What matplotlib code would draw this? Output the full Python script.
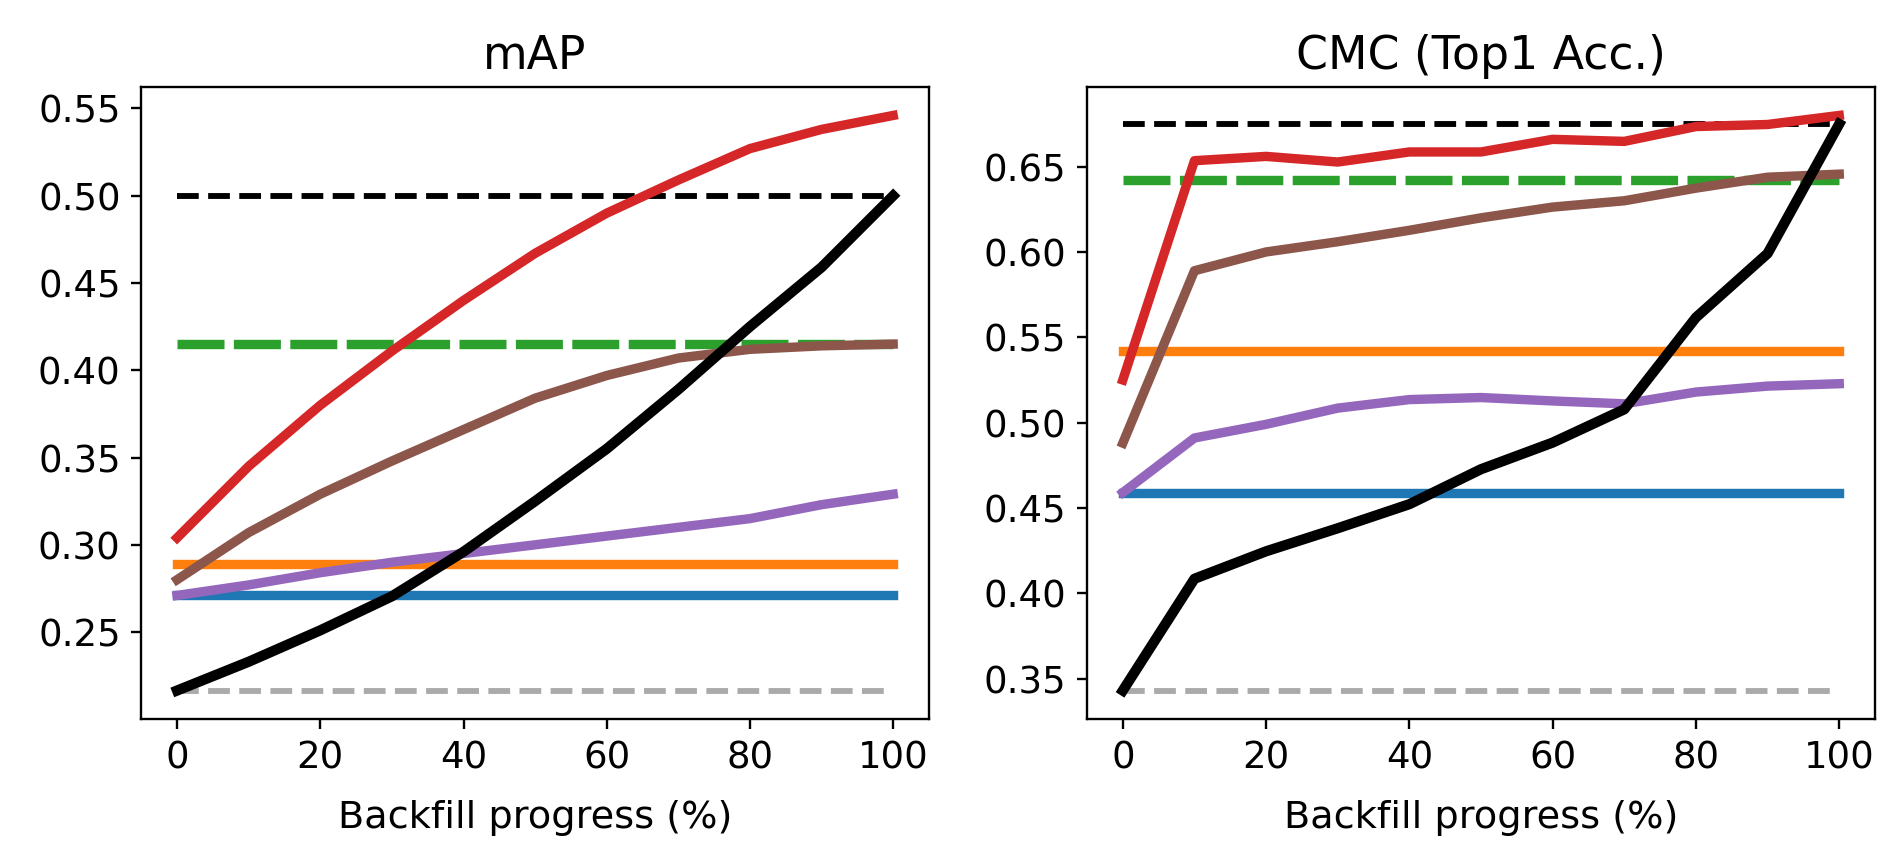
import matplotlib
matplotlib.use("Agg")
import matplotlib.pyplot as plt

DPI = 211.5
W, H = 1904, 866

# ---------------- data ----------------
progress = [0, 10, 20, 30, 40, 50, 60, 70, 80, 90, 100]

# mAP panel
map_red = [0.304, 0.345, 0.380, 0.411, 0.440, 0.467, 0.490, 0.509, 0.527, 0.538, 0.546]
map_brown = [0.280, 0.307, 0.329, 0.348, 0.366, 0.384, 0.397, 0.407, 0.412, 0.414, 0.415]
map_purple = [0.271, 0.277, 0.284, 0.290, 0.295, 0.300, 0.305, 0.310, 0.315, 0.323, 0.329]
map_black = [0.2165, 0.233, 0.251, 0.2705, 0.296, 0.325, 0.355, 0.389, 0.425, 0.459, 0.500]
map_upper = 0.500   # black dashed
map_green = 0.415   # green dashed
map_orange = 0.289
map_blue = 0.271
map_lower = 0.2165  # gray dashed

# CMC panel
cmc_red = [0.525, 0.6535, 0.656, 0.6527, 0.6586, 0.6586, 0.666, 0.6648, 0.6735, 0.6747, 0.680]
cmc_brown = [0.488, 0.589, 0.600, 0.606, 0.6127, 0.620, 0.6263, 0.630, 0.6374, 0.6438, 0.6456]
cmc_purple = [0.459, 0.491, 0.499, 0.5085, 0.5135, 0.5147, 0.5127, 0.511, 0.5179, 0.5214, 0.5228]
cmc_black = [0.343, 0.4085, 0.4246, 0.4381, 0.4522, 0.4727, 0.4883, 0.5078, 0.5616, 0.5991, 0.675]
cmc_upper = 0.675
cmc_green = 0.642
cmc_orange = 0.542
cmc_blue = 0.459
cmc_lower = 0.343

titles = ["mAP", "CMC (Top1 Acc.)"]
xlabel = "Backfill progress (%)"

plt.rcParams["font.size"] = 13
plt.rcParams["xtick.labelsize"] = 12.6
plt.rcParams["ytick.labelsize"] = 12.6

fig = plt.figure(figsize=(W / DPI, H / DPI), dpi=DPI)
ax1 = fig.add_axes([0.0742, 0.1694, 0.4879 - 0.0742, 0.8999 - 0.1694])
ax2 = fig.add_axes([0.5709, 0.1694, 0.9848 - 0.5709, 0.8999 - 0.1694])

LW = 3.2
GRAY = "#aaaaaa"


def draw(ax, red, brown, purple, black, upper, green, orange, blue, lower, title):
    n = len(progress)
    ax.plot(progress, [lower] * n, color=GRAY, lw=2, ls="--")
    ax.plot(progress, [blue] * n, color="C0", lw=LW)
    ax.plot(progress, [orange] * n, color="C1", lw=LW)
    ax.plot(progress, [green] * n, color="C2", lw=LW, ls=(0, (5, 1)))
    ax.plot(progress, [upper] * n, color="black", lw=2, ls="--")
    ax.plot(progress, purple, color="C4", lw=LW)
    ax.plot(progress, brown, color="C5", lw=LW)
    ax.plot(progress, red, color="C3", lw=LW)
    ax.plot(progress, black, color="black", lw=3.5)
    ax.set_title(title)
    ax.set_xlabel(xlabel, labelpad=8)
    ax.set_xticks([0, 20, 40, 60, 80, 100])


draw(ax1, map_red, map_brown, map_purple, map_black, map_upper, map_green,
     map_orange, map_blue, map_lower, titles[0])
draw(ax2, cmc_red, cmc_brown, cmc_purple, cmc_black, cmc_upper, cmc_green,
     cmc_orange, cmc_blue, cmc_lower, titles[1])

fig.savefig("out.png", dpi=DPI)
